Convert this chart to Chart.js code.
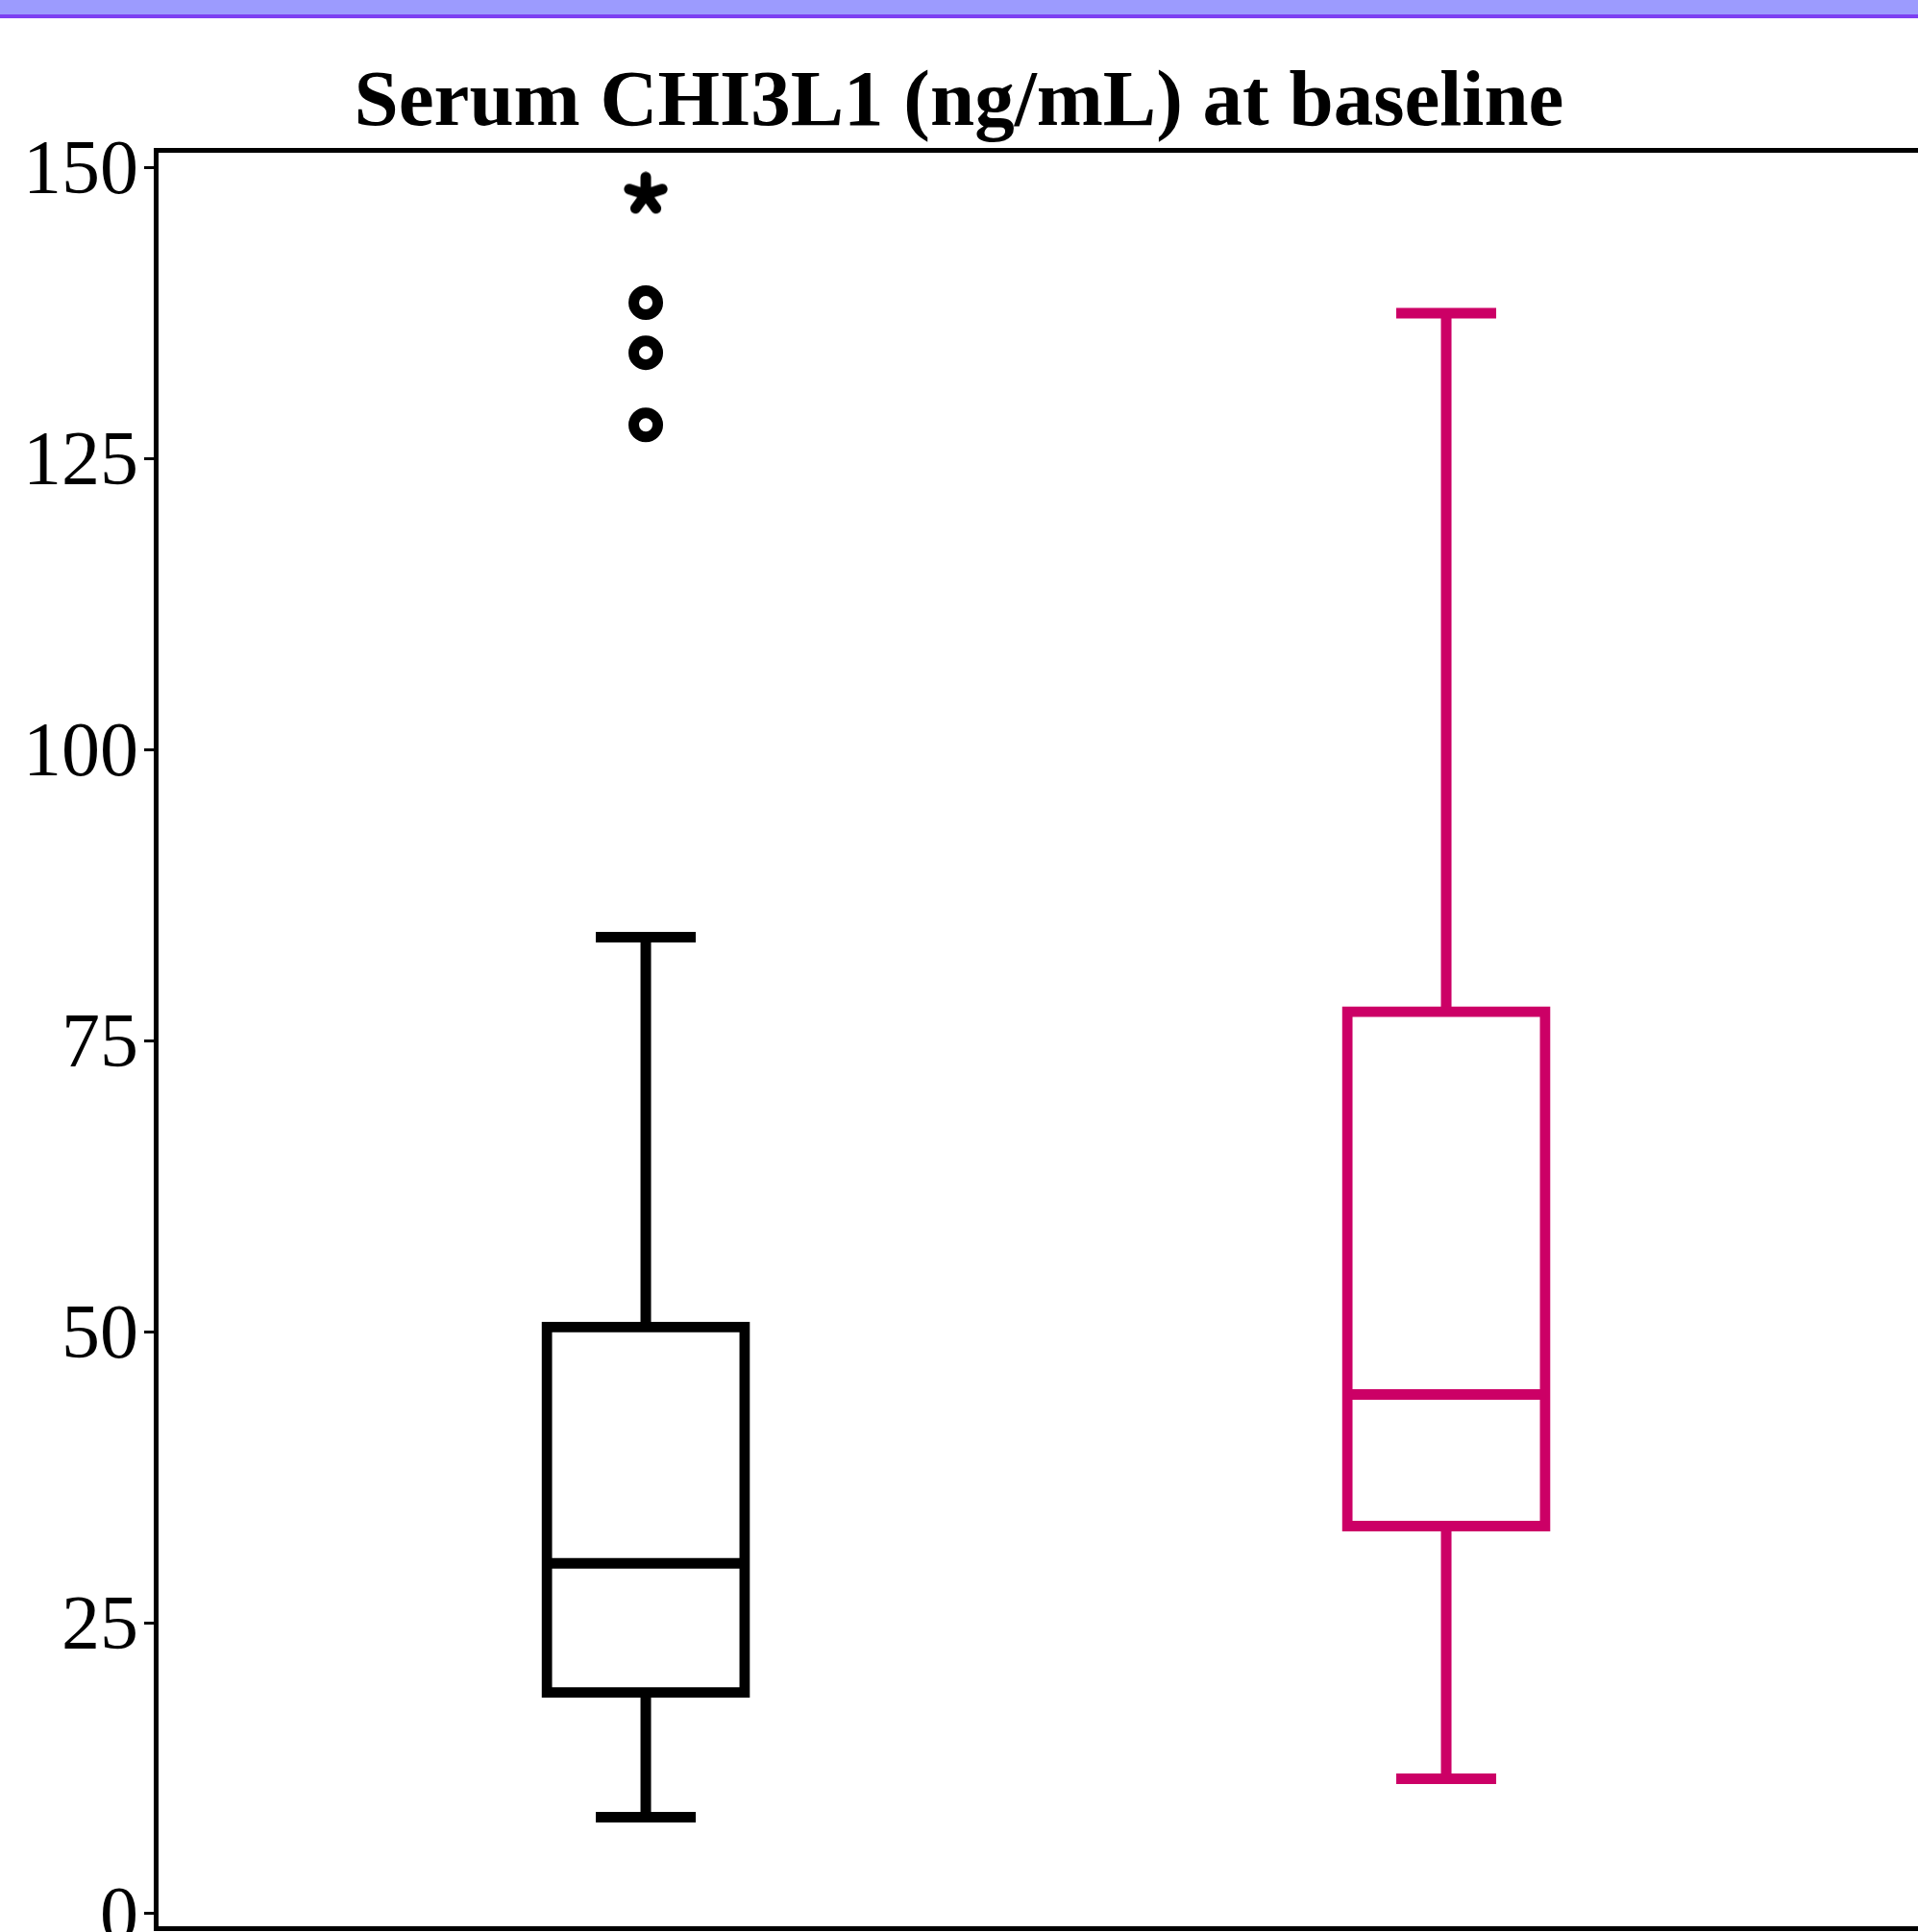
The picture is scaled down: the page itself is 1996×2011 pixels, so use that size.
<!DOCTYPE html>
<html>
<head>
<meta charset="utf-8">
<title>Serum CHI3L1 (ng/mL) at baseline</title>
<script src="https://cdn.jsdelivr.net/npm/chart.js@4.4.1/dist/chart.umd.min.js"></script>
<style>
  html, body { margin: 0; padding: 0; background: #fff; overflow: hidden; }
  #wrap { position: relative; width: 1996px; height: 2011px; }
  #band {
    position: absolute; left: 0; top: 0; width: 100%; height: 15px;
    background: #9c9bfe; border-bottom: 4px solid #7d3ff2; z-index: 2;
  }
</style>
</head>
<body>
<div id="wrap">
  <div id="band"></div>
  <canvas id="chart"></canvas>
</div>
<script>
'use strict'

// two groups, placed at x = 1 and x = 2 on a linear axis
const groupIndex = [1, 2]
const groupColors = ['#000000', '#cc0066']

// box plot summary, ng/mL
const whiskerLow = [8.3, 11.6]
const q1 = [19.0, 33.3]
const median = [30.1, 44.6]
const q3 = [50.4, 77.5]
const whiskerHigh = [83.9, 137.5]

// group 1 only
const outliers = [138.4, 134.1, 127.9]
const extremes = [147.7]

const yTickStep = 25

function makeAsterisk (size, color) {
  const c = document.createElement('canvas')
  c.width = size
  c.height = size
  const g = c.getContext('2d')
  g.strokeStyle = color
  g.lineWidth = 11
  g.lineCap = 'round'
  const r = size / 2 - 6
  g.beginPath()
  for (let k = 0; k < 5; k++) {
    const a = -Math.PI / 2 + k * 2 * Math.PI / 5
    g.moveTo(size / 2, size / 2)
    g.lineTo(size / 2 + r * Math.cos(a), size / 2 + r * Math.sin(a))
  }
  g.stroke()
  return c
}

function floating (lo, hi) {
  return groupIndex.map((x, i) => ({ x, y: [lo[i], hi[i]] }))
}

const capPoints = []
const capColors = []
groupIndex.forEach((x, i) => {
  capPoints.push({ x, y: whiskerLow[i] }, { x, y: whiskerHigh[i] })
  capColors.push(groupColors[i], groupColors[i])
})

const whiskerStyle = {
  type: 'bar',
  grouped: false,
  barThickness: 11,
  borderWidth: 0,
  inflateAmount: 0,
  backgroundColor: groupColors,
  order: 4
}

const ctx = document.getElementById('chart')
new Chart(ctx, {
  type: 'bar',
  data: {
    datasets: [
      { ...whiskerStyle, label: 'upper whisker', data: floating(q3, whiskerHigh) },
      { ...whiskerStyle, label: 'lower whisker', data: floating(whiskerLow, q1) },
      {
        type: 'bar',
        label: 'box',
        grouped: false,
        data: floating(q1, q3),
        barThickness: 206,
        borderWidth: 11,
        inflateAmount: 5.5,
        borderSkipped: false,
        borderColor: groupColors,
        backgroundColor: '#ffffff',
        order: 3
      },
      {
        type: 'scatter',
        label: 'caps',
        data: capPoints,
        pointStyle: 'line',
        pointRadius: 52,
        pointBorderWidth: 11,
        pointBorderColor: capColors,
        order: 1
      },
      {
        type: 'scatter',
        label: 'median',
        data: groupIndex.map((x, i) => ({ x, y: median[i] })),
        pointStyle: 'line',
        pointRadius: 103,
        pointBorderWidth: 11,
        pointBorderColor: groupColors,
        order: 0
      },
      {
        type: 'scatter',
        label: 'outliers',
        data: outliers.map(y => ({ x: groupIndex[0], y })),
        pointStyle: 'circle',
        pointRadius: 12.5,
        pointBorderWidth: 11,
        pointBorderColor: groupColors[0],
        pointBackgroundColor: '#ffffff',
        order: 0
      },
      {
        type: 'scatter',
        label: 'extremes',
        data: extremes.map(y => ({ x: groupIndex[0], y })),
        pointStyle: makeAsterisk(48, groupColors[0]),
        order: 0
      }
    ]
  },
  options: {
    responsive: true,
    maintainAspectRatio: false,
    animation: false,
    events: [],
    layout: {
      autoPadding: false,
      padding: { top: 0, bottom: 4, left: 0, right: 0 }
    },
    plugins: {
      legend: { display: false },
      tooltip: { enabled: false },
      title: {
        display: true,
        text: 'Serum CHI3L1 (ng/mL) at baseline',
        color: '#000000',
        font: { family: 'Liberation Serif', size: 83, weight: 'bold', lineHeight: 1.1 },
        padding: { top: 63, bottom: 2 }
      }
    },
    scales: {
      x: {
        type: 'linear',
        min: 0.3877,
        max: 2.5894,
        offset: false,
        ticks: { display: false },
        grid: { display: false, drawTicks: false },
        border: { display: true, color: '#000000', width: 5 }
      },
      x2: {
        type: 'linear',
        axis: 'x',
        position: 'top',
        ticks: { display: false },
        grid: { display: false, drawTicks: false },
        border: { display: true, color: '#000000', width: 5 }
      },
      y: {
        min: -1.24,
        max: 151.5,
        ticks: {
          stepSize: yTickStep,
          includeBounds: false,
          color: '#000000',
          padding: 6,
          labelOffset: 6,
          font: { family: 'Liberation Serif', size: 80 }
        },
        grid: {
          display: true,
          drawOnChartArea: false,
          drawTicks: true,
          tickLength: 12,
          tickWidth: 3,
          tickColor: '#000000'
        },
        border: { display: true, color: '#000000', width: 5 },
        afterFit (scale) {
          scale.width = 162
          scale.paddingTop = 0
          scale.paddingBottom = 0
        }
      }
    }
  }
})
</script>
</body>
</html>
